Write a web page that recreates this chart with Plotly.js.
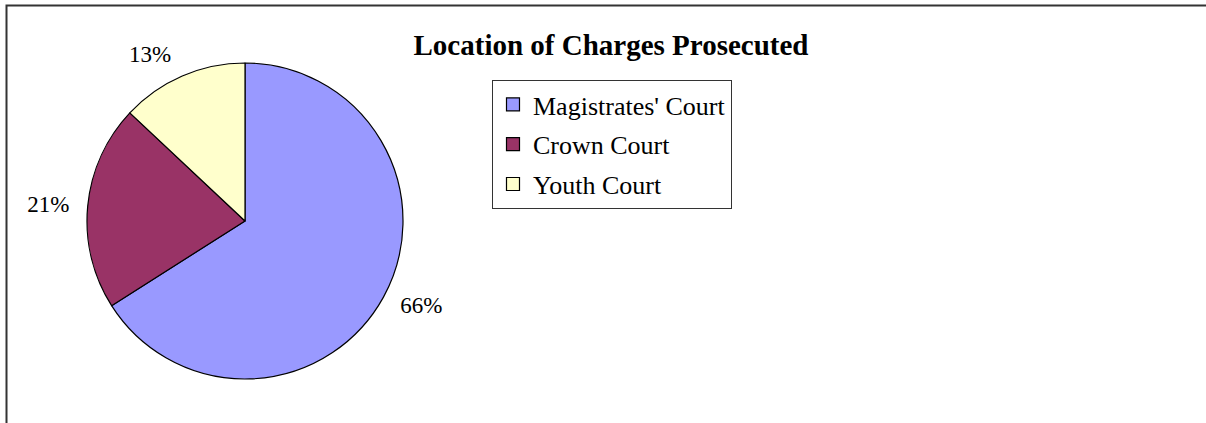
<!DOCTYPE html>
<html>
<head>
<meta charset="utf-8">
<script src="https://cdn.plot.ly/plotly-3.0.1.min.js"></script>
<style>html,body{margin:0;padding:0;background:#fff;}#chart{width:1206px;height:423px;}</style>
</head>
<body>
<div id="chart"></div>
<script>
var categories = ["Magistrates' Court", "Crown Court", "Youth Court"];
var shares = [66, 21, 13];
var colors = ["#9999FF", "#993366", "#FFFFCC"];
var chartTitle = "Location of Charges Prosecuted";

var W = 1206, H = 423;
function px(x){ return x / W; }
function py(y){ return 1 - y / H; }

var serif = "Liberation Serif, Times New Roman, serif";
var cx = 245, cy = 221, R = 158, RL = 170;

var pie = {
  type: "pie",
  labels: categories,
  values: shares,
  sort: false,
  direction: "clockwise",
  rotation: 0,
  marker: {colors: colors, line: {color: "#000", width: 1.2}},
  textinfo: "none",
  domain: {x: [px(cx - R), px(cx + R)], y: [py(cy + R), py(cy - R)]},
  showlegend: false,
  hoverinfo: "label+percent"
};

// transparent companion pie, slightly larger, only to carry the outside percentage labels
var labelPie = {
  type: "pie",
  labels: categories,
  values: shares,
  sort: false,
  direction: "clockwise",
  rotation: 0,
  marker: {colors: ["rgba(0,0,0,0)", "rgba(0,0,0,0)", "rgba(0,0,0,0)"], line: {width: 0}},
  textinfo: "percent",
  texttemplate: "%{percent:.0%}",
  textposition: "outside",
  outsidetextfont: {family: serif, size: 23, color: "#000"},
  domain: {x: [px(cx - RL), px(cx + RL)], y: [py(cy + RL), py(cy - RL)]},
  showlegend: false,
  hoverinfo: "skip"
};

var legendTraces = categories.map(function(c, i){
  return {
    type: "scatter", mode: "markers", x: [null], y: [null],
    name: c, legendgroup: "g" + i,
    marker: {symbol: "square", size: 13, color: colors[i], line: {color: "#000", width: 1.2}},
    showlegend: true, hoverinfo: "skip"
  };
});

var layout = {
  width: W, height: H,
  margin: {l: 0, r: 0, t: 0, b: 0},
  paper_bgcolor: "#fff", plot_bgcolor: "#fff",
  title: {text: "<b>" + chartTitle + "</b>", x: px(611), xanchor: "center", y: py(45), yanchor: "middle",
          font: {family: serif, size: 29, color: "#000"}},
  xaxis: {visible: false}, yaxis: {visible: false},
  showlegend: true,
  legend: {x: px(492), y: py(80), xanchor: "left", yanchor: "top",
           bordercolor: "#333", borderwidth: 1, bgcolor: "#fff",
           font: {family: serif, size: 26, color: "#000"},
           tracegroupgap: 3, itemclick: false, itemdoubleclick: false},
  shapes: [{type: "rect", xref: "paper", yref: "paper",
            x0: px(6.5), x1: 1.05, y0: -0.05, y1: py(5.5),
            line: {color: "#333", width: 2}, fillcolor: "rgba(0,0,0,0)"}]
};

Plotly.newPlot("chart", legendTraces.concat([pie, labelPie]), layout, {displayModeBar: false, staticPlot: true});
</script>
</body>
</html>
